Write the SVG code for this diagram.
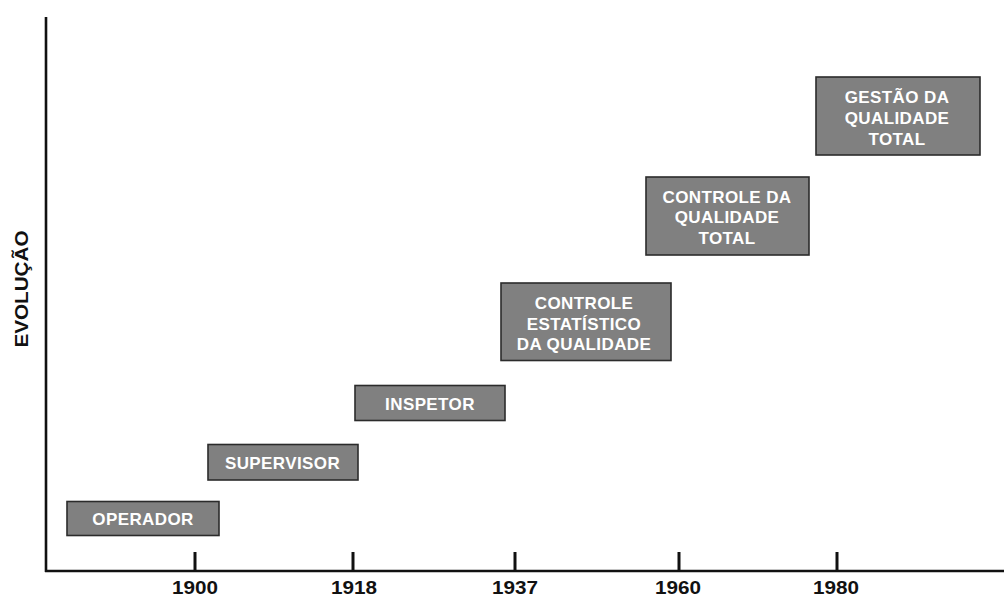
<svg xmlns="http://www.w3.org/2000/svg" width="1004" height="599" viewBox="0 0 1004 599">
  <style>
    .stage rect { fill: #808080; stroke: #2b2b2b; stroke-width: 1.6; }
    .stage text { fill: #ffffff; font-family: "Liberation Sans", Arial, sans-serif; font-weight: bold; font-size: 17px; letter-spacing: 0.4px; text-anchor: middle; }
    .axis { stroke: #111111; stroke-width: 2.6; fill: none; }
    .tick { stroke: #111111; stroke-width: 3; }
    .year { fill: #111111; font-family: "Liberation Sans", Arial, sans-serif; font-weight: bold; font-size: 18px; text-anchor: middle; }
    .ylabel { fill: #111111; font-family: "Liberation Sans", Arial, sans-serif; font-weight: bold; font-size: 19px; text-anchor: middle; }
  </style>

  <rect width="1004" height="599" fill="#ffffff"/>

  <!-- axes and year ticks -->
  <g id="connectors">
    <line class="axis" x1="46" y1="17" x2="46" y2="572"/>
    <line class="axis" x1="45" y1="571" x2="1004" y2="571"/>
    <line class="tick" x1="195" y1="552" x2="195" y2="571"/>
    <line class="tick" x1="353" y1="552" x2="353" y2="571"/>
    <line class="tick" x1="515" y1="552" x2="515" y2="571"/>
    <line class="tick" x1="679" y1="552" x2="679" y2="571"/>
    <line class="tick" x1="837" y1="552" x2="837" y2="571"/>
  </g>

  <g id="years">
    <text class="year" x="195" y="594" textLength="46" lengthAdjust="spacingAndGlyphs">1900</text>
    <text class="year" x="354" y="594" textLength="46" lengthAdjust="spacingAndGlyphs">1918</text>
    <text class="year" x="515" y="594" textLength="46" lengthAdjust="spacingAndGlyphs">1937</text>
    <text class="year" x="678" y="594" textLength="46" lengthAdjust="spacingAndGlyphs">1960</text>
    <text class="year" x="836" y="594" textLength="46" lengthAdjust="spacingAndGlyphs">1980</text>
  </g>

  <g id="axis-label">
    <text class="ylabel" transform="translate(28,289) rotate(-90)" textLength="117" lengthAdjust="spacingAndGlyphs">EVOLUÇÃO</text>
  </g>

  <!-- stages, rising from left to right -->
  <g id="operador" class="stage">
    <rect x="67" y="501.5" width="152" height="34"/>
    <text x="143" y="525">OPERADOR</text>
  </g>

  <g id="supervisor" class="stage">
    <rect x="208" y="444.5" width="150" height="35.5"/>
    <text x="282.5" y="469">SUPERVISOR</text>
  </g>

  <g id="inspetor" class="stage">
    <rect x="355" y="385.5" width="150" height="35"/>
    <text x="430" y="409.5">INSPETOR</text>
  </g>

  <g id="controle-estatistico" class="stage">
    <rect x="501" y="283" width="170" height="77.5"/>
    <text x="584" y="308.5">CONTROLE</text>
    <text x="584" y="330">ESTATÍSTICO</text>
    <text x="584" y="350">DA QUALIDADE</text>
  </g>

  <g id="controle-qualidade-total" class="stage">
    <rect x="646" y="177" width="163" height="78"/>
    <text x="727" y="202.5">CONTROLE DA</text>
    <text x="727" y="223">QUALIDADE</text>
    <text x="727" y="243.5">TOTAL</text>
  </g>

  <g id="gestao-qualidade-total" class="stage">
    <rect x="816" y="77" width="164" height="78"/>
    <text x="897" y="103">GESTÃO DA</text>
    <text x="897" y="124">QUALIDADE</text>
    <text x="897" y="144.5">TOTAL</text>
  </g>
</svg>
